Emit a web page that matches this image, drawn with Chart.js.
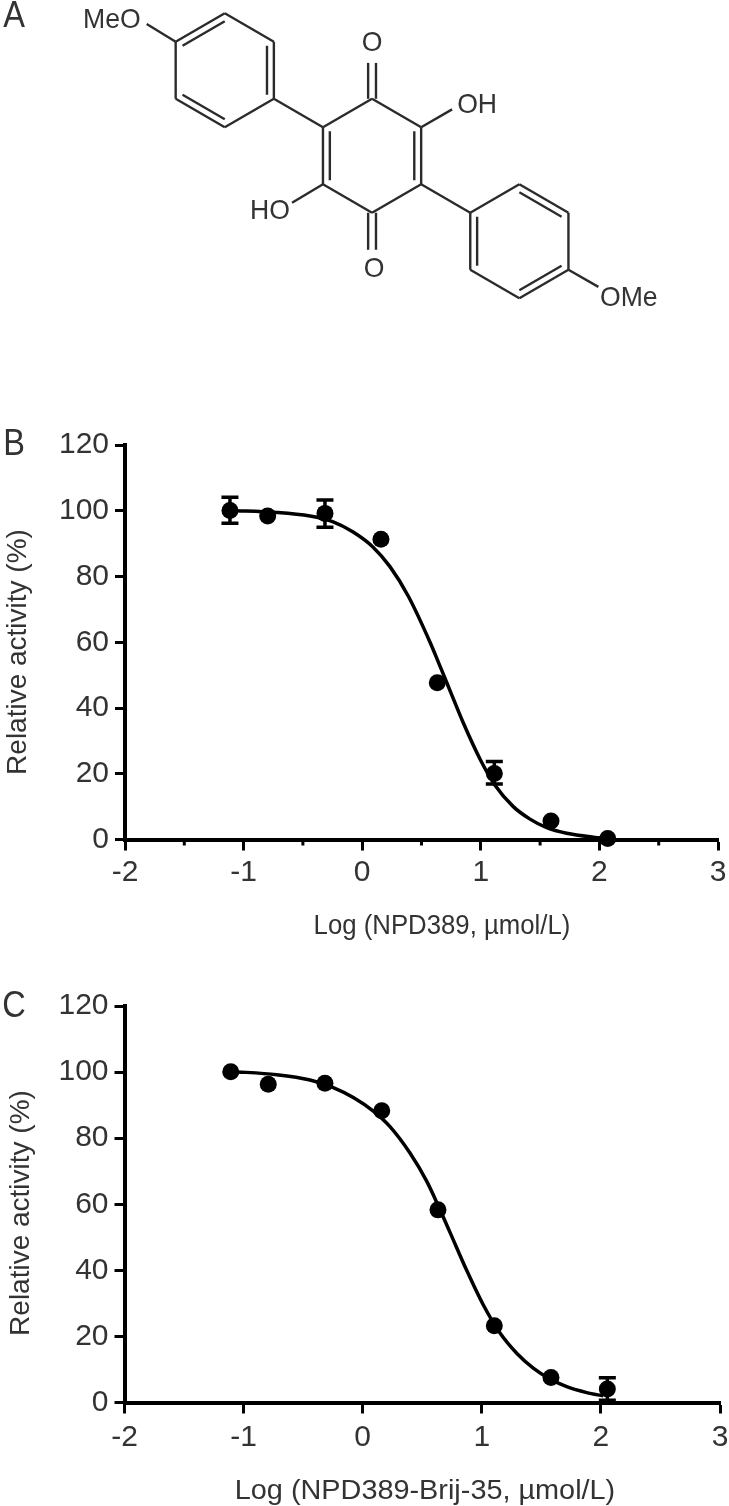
<!DOCTYPE html>
<html>
<head>
<meta charset="utf-8">
<title>NPD389</title>
<script src="https://cdn.jsdelivr.net/npm/chart.js@4"></script>
<style>
  html, body { margin: 0; padding: 0; background: #fff; }
  body { position: relative; width: 729px; height: 1506px; overflow: hidden; }
  canvas { position: absolute; left: 0; }
  #molecule { top: 0; }
  #chartB { top: 400px; }
  #chartC { top: 960px; }
</style>
</head>
<body>
<canvas id="molecule" width="729" height="400"></canvas>
<canvas id="chartB" width="729" height="550"></canvas>
<canvas id="chartC" width="729" height="546"></canvas>

<script>
const FONT = '"Liberation Sans", Arial, sans-serif';
const TEXT = '#333';

// axis ticks
const xTicks = [-2, -1, 0, 1, 2, 3];
const yTicks = [0, 20, 40, 60, 80, 100, 120];
const minorXB = [-1.5, -0.5, 0.5, 1.5, 2.5];
const minorXC = [];

// panel B
const doseB = [-1.115, -0.797, -0.314, 0.158, 0.633, 1.114, 1.592, 2.07];
const activityB = [100.1, 98.4, 99.2, 91.3, 47.7, 20.1, 5.6, 0.3];
const errHighB = [104.1, null, 103.3, null, null, 23.7, null, null];
const errLowB = [96.2, null, 95, null, null, 16.9, null, null];
const curveXB = [-1.115, -0.72, -0.44, -0.25, -0.08, 0.09, 0.234, 0.389, 0.572, 0.67, 0.755, 0.852, 0.993, 1.12, 1.274, 1.415, 1.556, 1.724, 1.949, 2.065];
const curveYB = [100.1, 99.5, 98.4, 96.7, 93.6, 89, 83, 74, 60, 51.5, 44, 35.5, 24.5, 16.5, 10, 6.2, 3.6, 1.9, 0.7, 0.3];

// panel C
const doseC = [-1.108, -0.793, -0.317, 0.16, 0.632, 1.105, 1.581, 2.054];
const activityC = [100.1, 96.3, 96.6, 88.3, 58.3, 23.2, 7.6, 4.1];
const errHighC = [null, null, null, null, null, null, null, 7.5];
const errLowC = [null, null, null, null, null, null, null, 0.7];
const curveXC = [-1.108, -0.722, -0.442, -0.247, -0.079, 0.089, 0.229, 0.397, 0.537, 0.635, 0.733, 0.873, 1.013, 1.153, 1.293, 1.432, 1.573, 1.713, 1.881, 2.02];
const curveYC = [100.2, 99.2, 97.6, 95.3, 92.3, 88.2, 83.5, 75.5, 67, 59.5, 51.5, 40, 29.5, 21, 14.9, 10.4, 7.1, 4.8, 3, 2];

// panel A, atoms on a hexagon lattice (column, row)
const atomCol = [1, 2, 2, 1, 0, 0, 3, 3, 4, 5, 5, 4, 6, 7, 8, 8, 7, 6, -0.59, 5.63, 2.37, 8.61];
const atomRow = [0, 1, 3, 4, 3, 1, 4, 6, 7, 6, 4, 3, 7, 6, 7, 9, 10, 9, 0.375, 3.37, 6.65, 9.6];
const bondFrom = [0, 1, 2, 3, 4, 5, 6, 7, 8, 9, 10, 11, 12, 13, 14, 15, 16, 17, 5, 2, 9, 10, 7, 15];
const bondTo = [1, 2, 3, 4, 5, 0, 7, 8, 9, 10, 11, 6, 13, 14, 15, 16, 17, 12, 18, 6, 12, 19, 20, 21];
const innerFrom = [5, 1, 3, 6, 9, 12, 13, 15];
const innerTo = [0, 2, 4, 7, 10, 17, 14, 16];
const innerCenterCol = [1, 1, 1, 4, 4, 7, 7, 7];
const innerCenterRow = [2, 2, 2, 5, 5, 8, 8, 8];
const carbonylCol = [3.92, 4.08, 3.92, 4.08];
const carbonylFrom = [3, 3, 7, 7];
const carbonylTo = [1.74, 1.74, 8.3, 8.3];
const atomLabels = ['MeO', 'O', 'OH', 'HO', 'O', 'OMe'];
const labelCol = [-1.3, 4, 6.14, 1.92, 4.04, 9.23];
const labelRow = [0.235, 1.04, 3.22, 6.93, 9, 10];

function drawText(ctx, text, x, y, size, rotate, sx) {
    ctx.save();
    ctx.translate(x, y);
    if (rotate) ctx.rotate(-Math.PI / 2);
    ctx.scale(sx || 1, 1);
    ctx.font = size + 'px ' + FONT;
    ctx.fillStyle = TEXT;
    ctx.textAlign = 'center';
    ctx.textBaseline = 'middle';
    ctx.fillText(text, 0, 0);
    ctx.restore();
}

// error bars and short x ticks, both through the chart's scales
const doseDecor = {
    id: 'doseDecor',
    afterDraw(chart, args, o) {
        const ctx = chart.ctx;
        const x = chart.scales.x;
        const y = chart.scales.y;
        ctx.save();
        ctx.strokeStyle = '#000';
        ctx.lineWidth = 3;
        o.minor.forEach(v => {
            ctx.beginPath();
            ctx.moveTo(x.getPixelForValue(v), y.bottom);
            ctx.lineTo(x.getPixelForValue(v), y.bottom + 6);
            ctx.stroke();
        });
        ctx.lineWidth = 3.5;
        o.dose.forEach((d, i) => {
            if (o.high[i] === null) return;
            const px = x.getPixelForValue(d);
            const top = y.getPixelForValue(o.high[i]);
            const low = y.getPixelForValue(o.low[i]);
            ctx.beginPath();
            ctx.moveTo(px, top);
            ctx.lineTo(px, low);
            ctx.moveTo(px - 8.5, top);
            ctx.lineTo(px + 8.5, top);
            ctx.moveTo(px - 8.5, low);
            ctx.lineTo(px + 8.5, low);
            ctx.stroke();
        });
        ctx.restore();
        drawText(ctx, o.letter, o.letterX, o.letterY, 37, false, 0.88);
        drawText(ctx, 'Relative activity (%)', o.yTitleX, o.yTitleY, 28, true);
        drawText(ctx, o.xTitle, o.xTitleX, o.xTitleY, 28, false, o.xTitleSx);
    }
};

function doseChart(id, dose, activity, high, low, curveX, curveY, minor, text, area) {
    new Chart(document.getElementById(id), {
        type: 'scatter',
        data: {
            datasets: [{
                data: curveX.map((v, i) => ({ x: v, y: curveY[i] })),
                showLine: true,
                cubicInterpolationMode: 'monotone',
                borderColor: '#000',
                borderWidth: 3.5,
                pointRadius: 0,
                clip: false
            }, {
                data: dose.map((v, i) => ({ x: v, y: activity[i] })),
                backgroundColor: '#000',
                borderWidth: 0,
                pointRadius: 8.5,
                clip: false
            }]
        },
        options: {
            responsive: false,
            animation: false,
            layout: { padding: { top: area.top, right: area.right } },
            plugins: {
                legend: { display: false },
                tooltip: { enabled: false },
                doseDecor: Object.assign({ dose: dose, high: high, low: low, minor: minor }, text)
            },
            scales: {
                x: {
                    type: 'linear',
                    min: -2,
                    max: 3,
                    afterBuildTicks: s => { s.ticks = xTicks.map(v => ({ value: v })); },
                    afterFit: s => {
                        s.height = area.xHeight;
                        s.paddingLeft = 0;
                        s.paddingRight = 0;
                    },
                    border: { color: '#000', width: 4 },
                    grid: { drawOnChartArea: false, color: '#000', tickLength: 11, tickWidth: 3 },
                    ticks: {
                        color: TEXT,
                        padding: area.xPad,
                        maxRotation: 0,
                        font: { family: FONT, size: 30 },
                        callback: v => String(v)
                    }
                },
                y: {
                    min: 0,
                    max: 120,
                    afterBuildTicks: s => { s.ticks = yTicks.map(v => ({ value: v })); },
                    afterFit: s => {
                        s.width = area.yWidth;
                        s.paddingTop = 0;
                        s.paddingBottom = 0;
                    },
                    border: { color: '#000', width: 4 },
                    grid: { drawOnChartArea: false, color: '#000', tickLength: 10, tickWidth: 3 },
                    ticks: {
                        color: TEXT,
                        padding: 6,
                        font: { family: FONT, size: 30 },
                        callback: v => String(v)
                    }
                }
            }
        },
        plugins: [doseDecor]
    });
}

doseChart('chartB', doseB, activityB, errHighB, errLowB, curveXB, curveYB, minorXB,
    { letter: 'B', letterX: 14, letterY: 45, yTitleX: 18, yTitleY: 252, xTitle: 'Log (NPD389, µmol/L)', xTitleX: 442, xTitleY: 526, xTitleSx: 0.92 },
    { top: 45, right: 11, xHeight: 110.5, yWidth: 125, xPad: 4 });

doseChart('chartC', doseC, activityC, errHighC, errLowC, curveXC, curveYC, minorXC,
    { letter: 'C', letterX: 14, letterY: 47, yTitleX: 21, yTitleY: 253, xTitle: 'Log (NPD389-Brij-35, µmol/L)', xTitleX: 425, xTitleY: 531, xTitleSx: 1.03 },
    { top: 46, right: 9, xHeight: 103.5, yWidth: 124.5, xPad: 6 });

// panel A
const moleculeSets = [];
function addBond(c1, r1, c2, r2) {
    moleculeSets.push({
        data: [{ x: c1, y: r1 }, { x: c2, y: r2 }],
        showLine: true,
        borderColor: '#2b2b2b',
        borderWidth: 2.4,
        pointRadius: 0,
        clip: false
    });
}
bondFrom.forEach((a, i) => {
    const b = bondTo[i];
    addBond(atomCol[a], atomRow[a], atomCol[b], atomRow[b]);
});
innerFrom.forEach((a, i) => {
    const b = innerTo[i];
    const cc = innerCenterCol[i];
    const cr = innerCenterRow[i];
    const f = 0.14;
    addBond(atomCol[a] + (cc - atomCol[a]) * f, atomRow[a] + (cr - atomRow[a]) * f,
        atomCol[b] + (cc - atomCol[b]) * f, atomRow[b] + (cr - atomRow[b]) * f);
});
carbonylCol.forEach((c, i) => addBond(c, carbonylFrom[i], c, carbonylTo[i]));

const moleculeText = {
    id: 'moleculeText',
    afterDraw(chart) {
        const x = chart.scales.x;
        const y = chart.scales.y;
        atomLabels.forEach((t, i) => {
            drawText(chart.ctx, t, x.getPixelForValue(labelCol[i]), y.getPixelForValue(labelRow[i]), 28, false, 0.95);
        });
        drawText(chart.ctx, 'A', 14, 17, 37, false, 0.88);
    }
};

new Chart(document.getElementById('molecule'), {
    type: 'scatter',
    data: { datasets: moleculeSets },
    options: {
        responsive: false,
        animation: false,
        layout: { padding: 0 },
        plugins: { legend: { display: false }, tooltip: { enabled: false } },
        scales: {
            x: { type: 'linear', display: false, min: -3.578, max: 11.27 },
            y: { type: 'linear', display: false, min: -0.467, max: 13.57, reverse: true }
        }
    },
    plugins: [moleculeText]
});
</script>
</body>
</html>
